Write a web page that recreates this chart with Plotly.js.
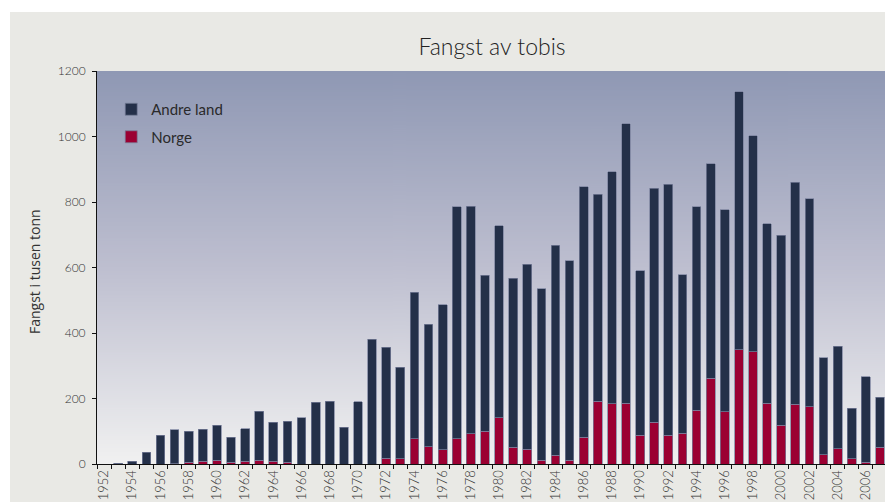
<!DOCTYPE html>
<html>
<head>
<meta charset="utf-8">
<script src="https://cdn.plot.ly/plotly-3.0.1.min.js"></script>
<style>
html,body{margin:0;padding:0;background:#ffffff;overflow:hidden;width:885px;height:502px;}
#frame{position:absolute;left:10px;top:12px;width:875px;height:490px;background:#e9e9e5;}
#chart{position:absolute;left:0;top:0;width:890px;height:502px;}
</style>
</head>
<body>
<div id="frame"></div>
<div id="chart"></div>
<script>
// Years
const years = [1952,1953,1954,1955,1956,1957,1958,1959,1960,1961,1962,1963,1964,1965,1966,1967,1968,1969,1970,
  1971,1972,1973,1974,1975,1976,1977,1978,1979,1980,1981,1982,1983,1984,1985,1986,1987,1988,1989,1990,
  1991,1992,1993,1994,1995,1996,1997,1998,1999,2000,2001,2002,2003,2004,2005,2006,2007];
// Total catch (thousand tonnes)
const total = [0,3,9,36,88,105,100,106,118,81,108,161,127,130,142,188,192,112,190,
  381,357,295,524,427,487,785,787,576,728,567,610,535,668,621,847,823,892,1039,590,
  842,854,578,785,917,776,1137,1003,734,698,860,810,325,360,171,266,204];
// Norway's catch (thousand tonnes)
const norge = [0,0,0,0,0,1,5,8,12,5,9,11,9,5,0,0,0,0,0,
  0,17,16,77,53,44,77,93,100,142,51,45,11,26,12,81,191,184,185,88,
  127,88,94,164,262,160,349,343,185,118,182,175,28,47,16,5,51];
// Other countries = total - Norway
const andre = total.map((t, i) => t - norge[i]);
const tickYears = years.filter(y => y % 2 === 0);
const tickText = tickYears.map(String);

// vertical gradient for the plot background
const cv = document.createElement('canvas');
cv.width = 4; cv.height = 400;
const ctx = cv.getContext('2d');
const g = ctx.createLinearGradient(0, 0, 0, 400);
g.addColorStop(0, '#8f98b4');
g.addColorStop(0.5, '#bebfd0');
g.addColorStop(1, '#f1f1f1');
ctx.fillStyle = g;
ctx.fillRect(0, 0, 4, 400);
const bgURL = cv.toDataURL('image/png');

const traces = [
  {type:'bar', name:'Norge', x:years, y:norge, legendgroup:'n', legendrank:2,
   marker:{color:'#9b0032', line:{color:'rgba(120,128,155,0.9)', width:0.8}}},
  {type:'bar', name:'Andre land', x:years, y:andre, legendgroup:'a', legendrank:1,
   marker:{color:'#243049', line:{color:'rgba(120,128,155,0.9)', width:0.8}}}
];

const layout = {
  width:890, height:502,
  margin:{l:97, r:3, t:71, b:38, pad:0},
  paper_bgcolor:'rgba(0,0,0,0)',
  plot_bgcolor:'rgba(0,0,0,0)',
  barmode:'stack',
  bargap:0.38,
  font:{family:'Lato, "Open Sans", sans-serif', color:'#333333', size:12},
  title:{text:'Fangst av tobis', x:0.5, xref:'paper', y:0.906, yref:'container', yanchor:'middle',
         font:{family:'Lato, sans-serif', size:23, weight:300, color:'#222222'}},
  showlegend:true,
  legend:{x:0.018, y:0.944, xanchor:'left', yanchor:'top', bgcolor:'rgba(0,0,0,0)',
          traceorder:'grouped', tracegroupgap:5,
          font:{family:'Lato, sans-serif', size:15, color:'#2a2a2a'}},
  xaxis:{range:[1951.5, 2007.5], tickmode:'array', tickvals:tickYears, ticktext:tickText,
         tickangle:-90, ticks:'', showgrid:false, zeroline:false,
         showline:true, linecolor:'#111111', linewidth:1,
         tickfont:{size:13, weight:300, color:'#333333'},
         minor:{dtick:1, tick0:1951.5, ticks:'outside', ticklen:4, tickcolor:'#111111', showgrid:false}},
  yaxis:{range:[0,1200], dtick:200, ticks:'outside', ticklen:4, tickcolor:'#111111',
         showgrid:false, zeroline:false, showline:true, linecolor:'#111111', linewidth:1,
         ticklabelstandoff:4, tickfont:{size:12, weight:300, color:'#333333'}},
  annotations:[{text:'Fangst i tusen tonn', textangle:-90, xref:'paper', yref:'paper',
                x:-0.079, y:0.49, xanchor:'center', yanchor:'middle', showarrow:false,
                font:{family:'"Open Sans", sans-serif', size:14, color:'#333333'}}],
  images:[{source:bgURL, xref:'paper', yref:'paper', x:0, y:1, sizex:1, sizey:1,
           xanchor:'left', yanchor:'top', sizing:'stretch', layer:'below'}]
};

Plotly.newPlot('chart', traces, layout, {displayModeBar:false, staticPlot:true});
</script>
</body>
</html>
